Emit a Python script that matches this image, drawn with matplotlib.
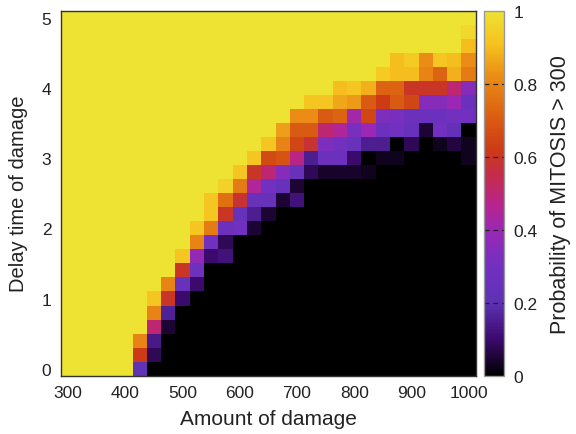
import numpy as np
import matplotlib.pyplot as plt
from matplotlib.colors import LinearSegmentedColormap

plt.rcParams['font.family'] = ['Liberation Sans', 'DejaVu Sans']

# amount of damage (column centres) and delay time (row centres)
damage = [300, 325, 350, 375, 400, 425, 450, 475, 500, 525, 550, 575, 600, 625, 650,
          675, 700, 725, 750, 775, 800, 825, 850, 875, 900, 925, 950, 975, 1000]
delay = [0.0, 0.2, 0.4, 0.6, 0.8, 1.0, 1.2, 1.4, 1.6, 1.8, 2.0, 2.2, 2.4,
         2.6, 2.8, 3.0, 3.2, 3.4, 3.6, 3.8, 4.0, 4.2, 4.4, 4.6, 4.8, 5.0]

# probability of MITOSIS > 300, one row per delay value (bottom row first)
prob = [
    [1, 1, 1, 1, 1, .22, 0, 0, 0, 0, 0, 0, 0, 0, 0, 0, 0, 0, 0, 0, 0, 0, 0, 0, 0, 0, 0, 0, 0],
    [1, 1, 1, 1, 1, .62, .08, 0, 0, 0, 0, 0, 0, 0, 0, 0, 0, 0, 0, 0, 0, 0, 0, 0, 0, 0, 0, 0, 0],
    [1, 1, 1, 1, 1, .80, .14, 0, 0, 0, 0, 0, 0, 0, 0, 0, 0, 0, 0, 0, 0, 0, 0, 0, 0, 0, 0, 0, 0],
    [1, 1, 1, 1, 1, 1, .50, .05, 0, 0, 0, 0, 0, 0, 0, 0, 0, 0, 0, 0, 0, 0, 0, 0, 0, 0, 0, 0, 0],
    [1, 1, 1, 1, 1, 1, .80, .16, 0, 0, 0, 0, 0, 0, 0, 0, 0, 0, 0, 0, 0, 0, 0, 0, 0, 0, 0, 0, 0],
    [1, 1, 1, 1, 1, 1, .92, .60, .10, 0, 0, 0, 0, 0, 0, 0, 0, 0, 0, 0, 0, 0, 0, 0, 0, 0, 0, 0, 0],
    [1, 1, 1, 1, 1, 1, 1, .80, .25, .10, 0, 0, 0, 0, 0, 0, 0, 0, 0, 0, 0, 0, 0, 0, 0, 0, 0, 0, 0],
    [1, 1, 1, 1, 1, 1, 1, 1, .60, .28, 0, 0, 0, 0, 0, 0, 0, 0, 0, 0, 0, 0, 0, 0, 0, 0, 0, 0, 0],
    [1, 1, 1, 1, 1, 1, 1, 1, .92, .38, .10, .12, 0, 0, 0, 0, 0, 0, 0, 0, 0, 0, 0, 0, 0, 0, 0, 0, 0],
    [1, 1, 1, 1, 1, 1, 1, 1, 1, .80, .30, .08, 0, 0, 0, 0, 0, 0, 0, 0, 0, 0, 0, 0, 0, 0, 0, 0, 0],
    [1, 1, 1, 1, 1, 1, 1, 1, 1, .92, .78, .27, .30, .05, 0, 0, 0, 0, 0, 0, 0, 0, 0, 0, 0, 0, 0, 0, 0],
    [1, 1, 1, 1, 1, 1, 1, 1, 1, 1, .92, .60, .25, .15, .05, 0, 0, 0, 0, 0, 0, 0, 0, 0, 0, 0, 0, 0, 0],
    [1, 1, 1, 1, 1, 1, 1, 1, 1, 1, .92, .75, .58, .25, .25, .05, .12, 0, 0, 0, 0, 0, 0, 0, 0, 0, 0, 0, 0],
    [1, 1, 1, 1, 1, 1, 1, 1, 1, 1, 1, .95, .78, .45, .30, .25, .05, 0, 0, 0, 0, 0, 0, 0, 0, 0, 0, 0, 0],
    [1, 1, 1, 1, 1, 1, 1, 1, 1, 1, 1, 1, .92, .60, .50, .35, .25, .08, .04, .04, .04, .03, 0, 0, 0, 0, 0, 0, 0],
    [1, 1, 1, 1, 1, 1, 1, 1, 1, 1, 1, 1, 1, .92, .66, .68, .48, .15, .27, .27, .10, 0, .03, .03, 0, 0, 0, 0, .03],
    [1, 1, 1, 1, 1, 1, 1, 1, 1, 1, 1, 1, 1, 1, .92, .80, .65, .58, .33, .30, .25, .15, .15, 0, .08, 0, .03, .06, .03],
    [1, 1, 1, 1, 1, 1, 1, 1, 1, 1, 1, 1, 1, 1, 1, .85, .70, .70, .50, .45, .32, .40, .27, .30, .25, .05, .30, .23, 0],
    [1, 1, 1, 1, 1, 1, 1, 1, 1, 1, 1, 1, 1, 1, 1, 1, .82, .82, .70, .72, .42, .65, .33, .32, .27, .27, .27, .30, .30],
    [1, 1, 1, 1, 1, 1, 1, 1, 1, 1, 1, 1, 1, 1, 1, 1, 1, .92, .92, .86, .84, .70, .62, .70, .65, .35, .35, .40, .27],
    [1, 1, 1, 1, 1, 1, 1, 1, 1, 1, 1, 1, 1, 1, 1, 1, 1, 1, 1, .90, .92, .88, .72, .72, .60, .60, .60, .50, .35],
    [1, 1, 1, 1, 1, 1, 1, 1, 1, 1, 1, 1, 1, 1, 1, 1, 1, 1, 1, 1, 1, 1, .93, .90, .90, .80, .72, .88, .78],
    [1, 1, 1, 1, 1, 1, 1, 1, 1, 1, 1, 1, 1, 1, 1, 1, 1, 1, 1, 1, 1, 1, 1, .90, .93, .82, .92, .90, .82],
    [1, 1, 1, 1, 1, 1, 1, 1, 1, 1, 1, 1, 1, 1, 1, 1, 1, 1, 1, 1, 1, 1, 1, 1, 1, 1, 1, 1, .90],
    [1, 1, 1, 1, 1, 1, 1, 1, 1, 1, 1, 1, 1, 1, 1, 1, 1, 1, 1, 1, 1, 1, 1, 1, 1, 1, 1, 1, .97],
    [1, 1, 1, 1, 1, 1, 1, 1, 1, 1, 1, 1, 1, 1, 1, 1, 1, 1, 1, 1, 1, 1, 1, 1, 1, 1, 1, 1, 1],
]

x_ticks = [300, 400, 500, 600, 700, 800, 900, 1000]
y_ticks = [0, 1, 2, 3, 4, 5]
cb_ticks = [0, 0.2, 0.4, 0.6, 0.8, 1]
cb_labels = ['0', '0.2', '0.4', '0.6', '0.8', '1']

# muted gnuplot-like palette, as printed in the figure
palette = LinearSegmentedColormap.from_list('printed_gnuplot', [
    (0.00, '#000000'),
    (0.10, '#3c0a6e'),
    (0.20, '#5e32b4'),
    (0.30, '#7230c0'),
    (0.40, '#9a28b4'),
    (0.47, '#b8248c'),
    (0.55, '#c42c4a'),
    (0.62, '#cc3a16'),
    (0.72, '#dc6212'),
    (0.82, '#ea8c16'),
    (0.91, '#f6c21e'),
    (1.00, '#eee232'),
])

fig = plt.figure(figsize=(5.76, 4.35), dpi=100)
ax = fig.add_axes([0.106, 0.134, 0.720, 0.839])
cax = fig.add_axes([0.840, 0.134, 0.035, 0.839])

mesh = ax.pcolormesh(damage, delay, np.array(prob), cmap=palette,
                     vmin=0, vmax=1, shading='nearest')

ax.set_xticks(x_ticks)
ax.set_yticks(y_ticks)
ax.tick_params(length=0, labelsize=12.5, colors='#222222', pad=7)
ax.set_xlabel('Amount of damage', fontsize=15, color='#222222', labelpad=6)
ax.set_ylabel('Delay time of damage', fontsize=14.5, color='#222222', labelpad=10)
for sp in ax.spines.values():
    sp.set_linewidth(1.0)
    sp.set_color('#333333')

cbar = fig.colorbar(mesh, cax=cax)
cbar.set_ticks(cb_ticks)
cbar.set_ticklabels(cb_labels)
cbar.ax.tick_params(length=0, labelsize=12.5, colors='#222222', pad=7)
cbar.outline.set_edgecolor('#999999')
cbar.outline.set_linewidth(1.0)
cbar.set_label('Probability of MITOSIS > 300', fontsize=15.5, color='#222222', labelpad=9)
cax.hlines(cb_ticks[1:-1], 0, 1, transform=cax.get_yaxis_transform(),
           colors='#222222', linestyles=(0, (4, 3)), linewidth=0.9)

fig.savefig('out.png', dpi=100)
